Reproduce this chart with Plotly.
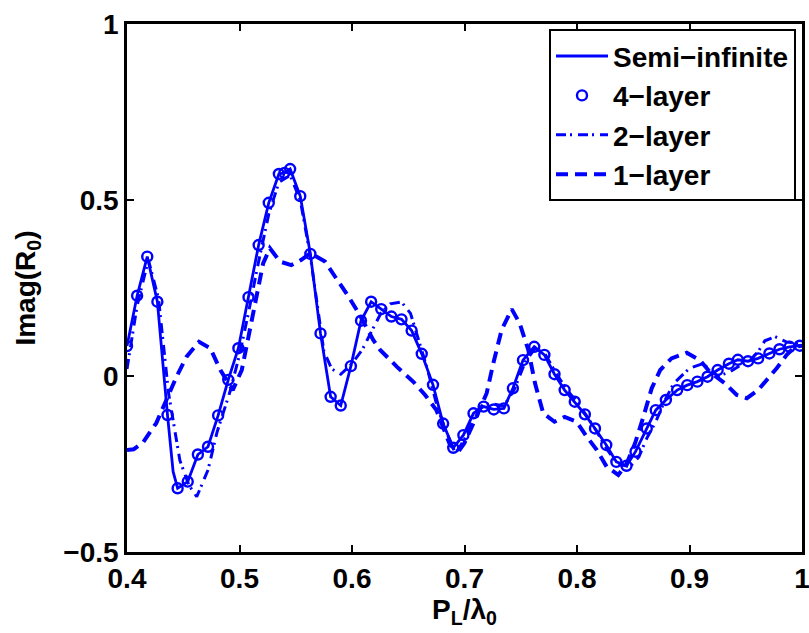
import plotly.graph_objects as go

# ---------------- data ----------------
x_semi = [0.400, 0.409, 0.418, 0.427, 0.436, 0.441, 0.445, 0.454, 0.463, 0.472, 0.481, 0.490,
          0.499, 0.508, 0.517, 0.526, 0.535, 0.540, 0.545, 0.554, 0.563, 0.572, 0.581,
          0.590, 0.599, 0.608, 0.617, 0.626, 0.635, 0.644, 0.653, 0.662, 0.672, 0.681,
          0.690, 0.699, 0.708, 0.717, 0.726, 0.735, 0.743, 0.752, 0.762, 0.771, 0.780,
          0.789, 0.798, 0.807, 0.816, 0.826, 0.835, 0.844, 0.852, 0.862, 0.870, 0.879,
          0.889, 0.898, 0.907, 0.916, 0.925, 0.935, 0.943, 0.952, 0.961, 0.971, 0.980,
          0.989, 1.000]
y_semi = [0.085, 0.228, 0.339, 0.211, -0.111, -0.272, -0.319, -0.300, -0.223, -0.201, -0.112, -0.011,
          0.079, 0.224, 0.372, 0.492, 0.574, 0.577, 0.588, 0.511, 0.347, 0.121, -0.059,
          -0.084, 0.028, 0.157, 0.211, 0.190, 0.169, 0.161, 0.129, 0.063, -0.025, -0.135,
          -0.204, -0.168, -0.106, -0.087, -0.095, -0.092, -0.035, 0.045, 0.083, 0.060, 0.005,
          -0.040, -0.073, -0.109, -0.149, -0.196, -0.244, -0.255, -0.215, -0.149, -0.097, -0.068,
          -0.040, -0.026, -0.016, -0.002, 0.017, 0.035, 0.046, 0.042, 0.050, 0.064, 0.076,
          0.083, 0.087]

x_4layer = [0.400, 0.409, 0.418, 0.427, 0.436, 0.445, 0.454, 0.463, 0.472, 0.481, 0.490,
            0.499, 0.508, 0.517, 0.526, 0.535, 0.540, 0.545, 0.554, 0.563, 0.572, 0.581,
            0.590, 0.599, 0.608, 0.617, 0.626, 0.635, 0.644, 0.653, 0.662, 0.672, 0.681,
            0.690, 0.699, 0.708, 0.717, 0.726, 0.735, 0.743, 0.752, 0.762, 0.771, 0.780,
            0.789, 0.798, 0.807, 0.816, 0.826, 0.835, 0.844, 0.852, 0.862, 0.870, 0.879,
            0.889, 0.898, 0.907, 0.916, 0.925, 0.935, 0.943, 0.952, 0.961, 0.971, 0.980,
            0.989, 0.998]
y_4layer = [0.085, 0.228, 0.339, 0.211, -0.111, -0.319, -0.300, -0.223, -0.201, -0.112, -0.011,
            0.079, 0.224, 0.372, 0.492, 0.574, 0.577, 0.588, 0.511, 0.347, 0.121, -0.059,
            -0.084, 0.028, 0.157, 0.211, 0.190, 0.169, 0.161, 0.129, 0.063, -0.025, -0.135,
            -0.204, -0.168, -0.106, -0.087, -0.095, -0.092, -0.035, 0.045, 0.083, 0.060, 0.005,
            -0.040, -0.073, -0.109, -0.149, -0.196, -0.244, -0.255, -0.215, -0.149, -0.097, -0.068,
            -0.040, -0.026, -0.016, -0.002, 0.017, 0.035, 0.046, 0.042, 0.050, 0.064, 0.076,
            0.083, 0.086]

x_2layer = [0.400, 0.409, 0.419, 0.428, 0.437, 0.447, 0.455, 0.462, 0.472, 0.480, 0.492,
            0.500, 0.508, 0.516, 0.526, 0.535, 0.545, 0.554, 0.563, 0.575, 0.582, 0.590,
            0.600, 0.609, 0.618, 0.626, 0.634, 0.644, 0.652, 0.660, 0.667, 0.676, 0.684,
            0.692, 0.700, 0.708, 0.717, 0.726, 0.735, 0.744, 0.754, 0.763, 0.772, 0.781,
            0.790, 0.799, 0.808, 0.817, 0.827, 0.836, 0.847, 0.855, 0.862, 0.870, 0.878,
            0.886, 0.900, 0.912, 0.925, 0.935, 0.945, 0.954, 0.961, 0.967, 0.976, 0.986,
            1.000]
y_2layer = [0.020, 0.200, 0.330, 0.220, -0.050, -0.240, -0.310, -0.343, -0.267, -0.160, -0.040,
            0.060, 0.180, 0.310, 0.460, 0.550, 0.570, 0.500, 0.340, 0.070, 0.020, 0.005,
            0.035, 0.074, 0.131, 0.180, 0.205, 0.210, 0.178, 0.093, 0.020, -0.090, -0.160,
            -0.220, -0.180, -0.110, -0.080, -0.080, -0.085, -0.040, 0.040, 0.080, 0.060, 0.010,
            -0.035, -0.070, -0.110, -0.155, -0.210, -0.250, -0.258, -0.230, -0.177, -0.130, -0.070,
            -0.021, 0.022, 0.035, 0.000, 0.010, 0.030, 0.045, 0.069, 0.100, 0.112, 0.097,
            0.090]

x_1layer = [0.400, 0.406, 0.414, 0.426, 0.435, 0.444, 0.453, 0.464, 0.474, 0.483, 0.494,
            0.502, 0.508, 0.517, 0.521, 0.527, 0.536, 0.546, 0.555, 0.563, 0.576, 0.585,
            0.595, 0.606, 0.619, 0.625, 0.640, 0.655, 0.665, 0.675, 0.682, 0.687, 0.6945,
            0.700, 0.710, 0.7197, 0.7256, 0.733, 0.742, 0.749, 0.7567, 0.7627, 0.770, 0.780,
            0.789, 0.7997, 0.8086, 0.8175, 0.8264, 0.8367, 0.844, 0.8516, 0.859, 0.8664, 0.874,
            0.884, 0.8975, 0.9093, 0.918, 0.9316, 0.942, 0.951, 0.961, 0.970, 0.9775, 0.9864,
            0.9938, 1.000]
y_1layer = [-0.210, -0.208, -0.190, -0.134, -0.068, -0.002, 0.055, 0.097, 0.079, 0.017, -0.040,
            0.017, 0.112, 0.263, 0.320, 0.363, 0.325, 0.315, 0.330, 0.349, 0.325, 0.282,
            0.235, 0.178, 0.102, 0.074, 0.026, -0.018, -0.054, -0.097, -0.150, -0.195, -0.215,
            -0.190, -0.120, -0.049, 0.036, 0.131, 0.190, 0.150, 0.074, -0.021, -0.106, -0.130,
            -0.116, -0.130, -0.172, -0.210, -0.258, -0.281, -0.250, -0.191, -0.116, -0.035, 0.017,
            0.050, 0.066, 0.045, 0.012, -0.021, -0.054, -0.063, -0.040, -0.007, 0.022, 0.060,
            0.083, 0.086]

x_ticks = [0.4, 0.5, 0.6, 0.7, 0.8, 0.9, 1.0]
x_ticklabels = ["0.4", "0.5", "0.6", "0.7", "0.8", "0.9", "1"]
y_ticks = [-0.5, 0, 0.5, 1]
y_ticklabels = ["\u22120.5", "0", "0.5", "1"]

BLUE = "#0000FF"
FONT = "Liberation Sans"

fig = go.Figure()
fig.add_trace(go.Scatter(x=x_semi, y=y_semi, mode="lines", name="Semi\u2212infinite",
                         line=dict(color=BLUE, width=2.8)))
fig.add_trace(go.Scatter(x=x_4layer, y=y_4layer, mode="markers", name="4\u2212layer",
                         marker=dict(symbol="circle-open", size=10, color=BLUE,
                                     line=dict(color=BLUE, width=2.4))))
fig.add_trace(go.Scatter(x=x_2layer, y=y_2layer, mode="lines", name="2\u2212layer",
                         line=dict(color=BLUE, width=3, dash="10px,4px,2px,6px")))
fig.add_trace(go.Scatter(x=x_1layer, y=y_1layer, mode="lines", name="1\u2212layer",
                         line=dict(color=BLUE, width=4, dash="12px,7px")))

axis_common = dict(showline=True, linecolor="black", linewidth=2.5, mirror="ticks",
                   ticks="inside", ticklen=7, tickwidth=2, tickcolor="black",
                   showgrid=False, zeroline=False, ticklabeloverflow="allow",
                   tickfont=dict(family=FONT, size=28, color="black", weight="bold"))

fig.update_xaxes(range=[0.4, 1.0], tickvals=x_ticks, ticktext=x_ticklabels,
                 title=dict(text="P<sub>L</sub>/\u03bb<sub>0</sub>", standoff=0,
                            font=dict(family=FONT, size=28, color="black", weight="bold")),
                 **axis_common)
fig.update_yaxes(range=[-0.5, 1.0], tickvals=y_ticks, ticktext=y_ticklabels,
                 title=dict(text="Imag(R<sub>0</sub>)", standoff=20,
                            font=dict(family=FONT, size=28, color="black", weight="bold")),
                 **axis_common)

fig.update_layout(
    width=809, height=633,
    margin=dict(l=127, r=7, t=24, b=81, autoexpand=False),
    paper_bgcolor="white", plot_bgcolor="white",
    showlegend=True,
    legend=dict(x=0.9911, y=0.99, xanchor="right", yanchor="top",
                bgcolor="white", bordercolor="black", borderwidth=2,
                font=dict(family=FONT, size=28, color="black", weight="bold"),
                tracegroupgap=0, itemwidth=52),
)

fig.write_html("out.html", config={"displayModeBar": False},
               post_script="document.body.style.margin='0';document.body.style.overflow='hidden';")
